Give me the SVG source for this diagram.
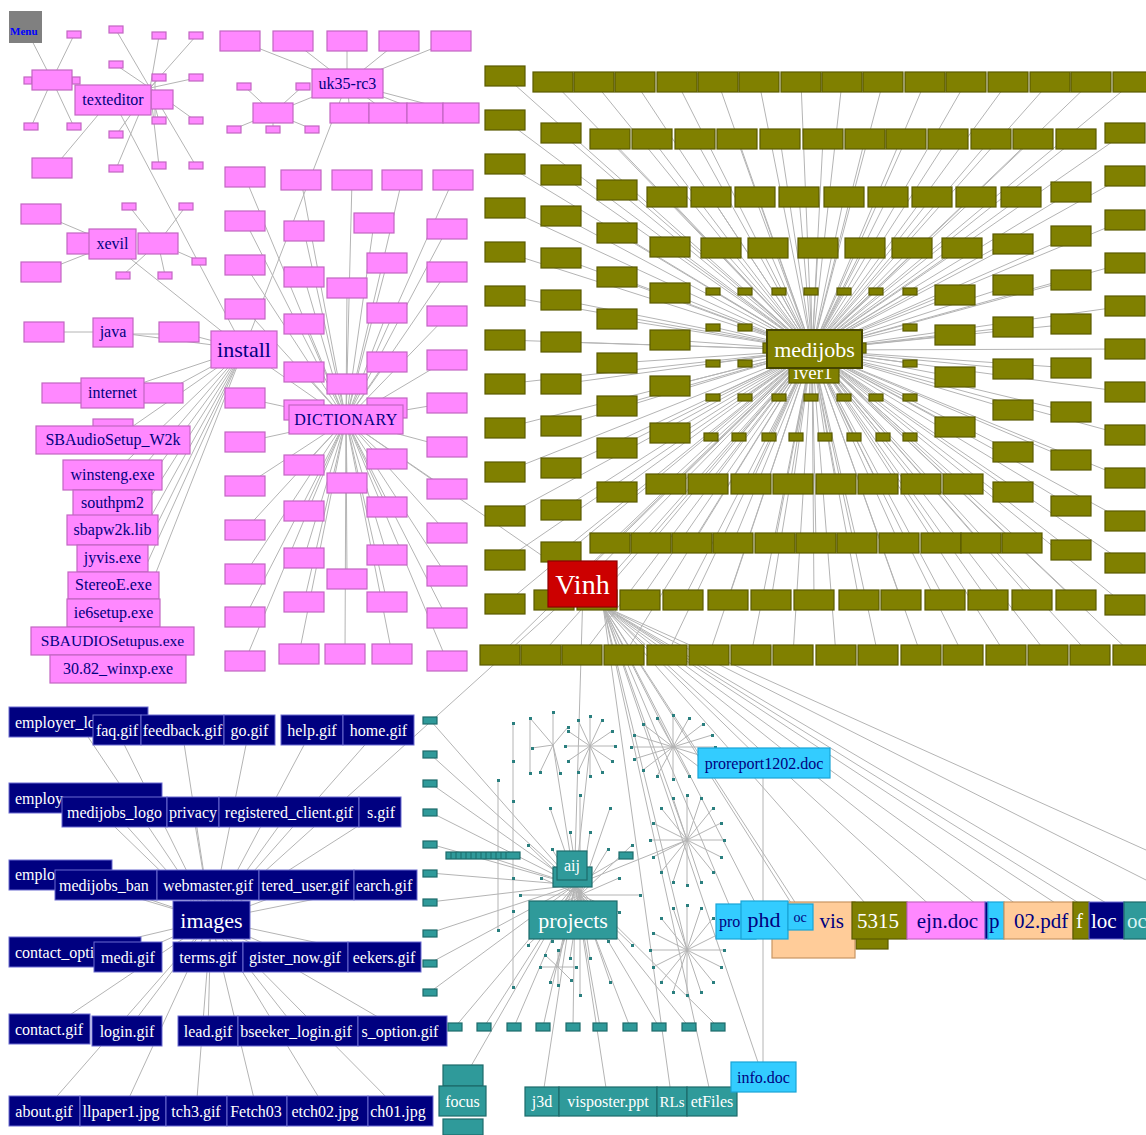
<svg xmlns="http://www.w3.org/2000/svg" width="1146" height="1135" viewBox="0 0 1146 1135">
<style>
.c{fill:none;stroke:#b4b4b4;stroke-width:1}
.p{fill:#ff88ff;stroke:#c266c2;stroke-width:1.2}
.o{fill:#808000;stroke:#5a5a00;stroke-width:1.2}
.n{fill:#000080;stroke:#6a6ad0;stroke-width:1}
.t{fill:#2f9a9a;stroke:#1d6b6b;stroke-width:1.2}
.b{fill:#33ccff;stroke:#1aa3d6;stroke-width:1.2}
.h{fill:#ffcc99;stroke:#c89563;stroke-width:1.2}
.r{fill:#cc0000;stroke:#8a0000;stroke-width:1.2}
.dots{fill:#2a7f7f}
text{font-family:"Liberation Serif","Times New Roman",serif;font-size:16px}
.tp{fill:#000080}
.tw{fill:#ffffff}
.m{text-anchor:middle}
.e{text-anchor:end}
.big{font-size:22px}
.rw{font-size:21px}
.huge{font-size:28px}
.sm{font-size:14px}
.mn{font-size:11px;font-weight:bold;fill:#0000ff}
</style>
<defs>
<rect id="pb" class="p" width="40" height="20"/>
<rect id="ps" class="p" width="14" height="7"/>
<rect id="ob" class="o" width="40" height="20"/>
<rect id="od" class="o" width="14" height="7"/>
<rect id="td" class="t" width="14" height="7"/>
</defs>
<rect width="1146" height="1135" fill="#ffffff"/>

<g id="connectors" class="c">
<!-- pink clusters -->
<path d="M52 80L25 27M52 80L74 35M52 80L31 127M52 80L74 127M150 88L116 30M150 88L159 36M150 88L196 36M150 88L116 65M150 88L159 78M150 88L196 78M150 88L159 121M150 88L196 121M150 88L116 135M150 88L116 169M150 88L159 166M150 88L196 166M98 115L56 165M155 78V120M112 244L41 214M112 244L41 272M158 243L129 206M158 243L186 206M158 243L199 261M158 243L123 275M158 243L165 275M347 83L240 41M347 83L293 41M347 83L347 41M347 83L399 41M347 83L451 41M347 83L350 113M347 83L388 113M347 83L425 113M347 83L461 113M347 83L273 113M273 113L244 86M273 113L303 86M273 113L234 129M273 113L273 129M273 113L312 129"/>
<path d="M244 349L113 100M244 349L112 244M244 349L113 332M244 349L179 332M113 332L44 332M113 334L179 334M244 349L112 393M244 349L163 393M112 393L62 393M244 349L113 440M244 349L112 475M244 349L112 503M244 349L112 530M244 349L112 558M244 349L113 585M244 349L113 613M244 349L112 641M244 349L118 669M244 349L347 83M244 349L346 420"/>
<path d="M346 420L245 177M346 420L301 180M346 420L352 180M346 420L402 180M346 420L453 180M346 420L245 221M346 420L304 231M346 420L374 223M346 420L447 229M346 420L245 265M346 420L304 277M346 420L387 263M346 420L447 272M346 420L347 288M346 420L245 309M346 420L304 324M346 420L387 313M346 420L447 316M346 420L304 372M346 420L347 384M346 420L387 362M346 420L447 360M346 420L245 398M346 420L447 403M346 420L245 442M346 420L447 447M346 420L304 465M346 420L387 459M346 420L347 483M346 420L245 486M346 420L447 489M346 420L304 511M346 420L387 507M346 420L245 530M346 420L447 533M346 420L304 558M346 420L387 555M346 420L347 579M346 420L245 574M346 420L447 576M346 420L304 602M346 420L387 602M346 420L245 617M346 420L447 618M346 420L245 661M346 420L299 654M346 420L345 654M346 420L392 654M346 420L447 661"/>
<!-- medijobs fan -->
<path d="M812 350L505 76M812 350L505 120M812 350L505 164M812 350L505 208M812 350L505 252M812 350L505 296M812 350L505 340M812 350L505 384M812 350L505 428M812 350L505 472M812 350L505 516M812 350L505 560M812 350L505 604M812 350L553 82M812 350L594 82M812 350L635 82M812 350L677 82M812 350L718 82M812 350L759 82M812 350L801 82M812 350L842 82M812 350L883 82M812 350L925 82M812 350L966 82M812 350L1008 82M812 350L1050 82M812 350L1091 82M812 350L1133 82M812 350L1125 133M812 350L1125 176M812 350L1125 220M812 350L1125 263M812 350L1125 306M812 350L1125 349M812 350L1125 392M812 350L1125 435M812 350L1125 478M812 350L1125 521M812 350L1125 563M812 350L1125 605M812 350L500 655M812 350L541 655M812 350L582 655M812 350L624 655M812 350L667 655M812 350L709 655M812 350L751 655M812 350L793 655M812 350L836 655M812 350L878 655M812 350L921 655M812 350L963 655M812 350L1006 655M812 350L1048 655M812 350L1090 655M812 350L1133 655"/>
<path d="M812 350L561 133M812 350L561 175M812 350L561 216M812 350L561 258M812 350L561 300M812 350L561 342M812 350L561 384M812 350L561 426M812 350L561 468M812 350L561 510M812 350L561 552M812 350L610 139M812 350L652 139M812 350L695 139M812 350L737 139M812 350L780 139M812 350L823 139M812 350L865 139M812 350L906 139M812 350L948 139M812 350L991 139M812 350L1033 139M812 350L1076 139M812 350L1071 192M812 350L1071 236M812 350L1071 280M812 350L1071 324M812 350L1071 368M812 350L1071 412M812 350L1071 460M812 350L1071 506M812 350L1071 550M812 350L554 600M812 350L597 600M812 350L640 600M812 350L683 600M812 350L728 600M812 350L771 600M812 350L814 600M812 350L859 600M812 350L901 600M812 350L945 600M812 350L988 600M812 350L1032 600M812 350L1076 600"/>
<path d="M812 350L617 190M812 350L617 233M812 350L617 277M812 350L617 319M812 350L617 363M812 350L617 406M812 350L617 448M812 350L617 492M812 350L667 197M812 350L711 197M812 350L755 197M812 350L799 197M812 350L844 197M812 350L888 197M812 350L932 197M812 350L976 197M812 350L1021 197M812 350L1013 244M812 350L1013 285M812 350L1013 327M812 350L1013 369M812 350L1013 410M812 350L1013 452M812 350L1013 492M812 350L610 543M812 350L651 543M812 350L692 543M812 350L733 543M812 350L775 543M812 350L816 543M812 350L857 543M812 350L899 543M812 350L941 543M812 350L981 543M812 350L1022 543M812 350L670 247M812 350L670 293M812 350L670 340M812 350L670 386M812 350L670 433M812 350L721 248M812 350L768 248M812 350L818 248M812 350L865 248M812 350L912 248M812 350L962 248M812 350L955 295M812 350L955 335M812 350L955 377M812 350L955 427M812 350L666 484M812 350L708 484M812 350L751 484M812 350L793 484M812 350L836 484M812 350L878 484M812 350L921 484M812 350L963 484"/>
<path d="M812 350L713 291M812 350L745 291M812 350L779 291M812 350L811 291M812 350L844 291M812 350L876 291M812 350L910 291M812 350L713 327M812 350L745 327M812 350L910 327M812 350L713 363M812 350L745 363M812 350L910 363M812 350L713 397M812 350L745 397M812 350L779 397M812 350L811 397M812 350L844 397M812 350L876 397M812 350L910 397M812 350L711 437M812 350L739 437M812 350L769 437M812 350L796 437M812 350L825 437M812 350L854 437M812 350L883 437M812 350L910 437"/>
<!-- Vinh -->
<path d="M583 584L812 350M583 584L346 420M583 584L211 920M583 590L575 860M603 606L736 921M603 606L764 920M603 606L800 917M603 606L813 930M603 606L880 920M603 606L946 920M603 606L996 920M603 606L1038 920M603 606L1081 920M603 606L1106 920M603 606L1135 920M603 606L1146 880M603 606L1146 850M603 606L763 1077M603 606L764 763M603 606L673 747M603 606L687 840M603 606L687 950M603 606L712 1101M603 606L672 1101M763 778V1062"/>
<!-- images -->
<path d="M211 920L78 722M211 920L117 730M211 920L182 730M211 920L249 730M211 920L312 730M211 920L378 730M211 920L85 798M211 920L114 812M211 920L193 812M211 920L289 812M211 920L380 812M211 920L60 875M211 920L106 885M211 920L208 885M211 920L306 885M211 920L385 885M211 920L75 952M211 920L128 957M211 920L208 957M211 920L295 957M211 920L384 957M211 920L49 1029M211 920L127 1031M211 920L208 1031M211 920L298 1031M211 920L402 1031M211 920L44 1111M211 920L123 1111M211 920L196 1111M211 920L257 1111M211 920L327 1111M211 920L400 1111"/>
<!-- projects -->
<path d="M575 885L430 720M575 885L430 754M575 885L430 783M575 885L430 812M575 885L430 844M575 885L430 873M575 885L430 902M575 885L430 933M575 885L430 963M575 885L430 992M575 885L455 1027M575 885L484 1027M575 885L514 1027M575 885L543 1027M575 885L573 1027M575 885L600 1027M575 885L630 1027M575 885L659 1027M575 885L689 1027M575 885L718 1027M575 885L463 1080M575 885L542 1101M575 885L608 1101M575 885L483 855M575 885L626 855M575 885L590 746M575 885L553 745M575 885L558 967M575 885L687 840"/>
<path d="M590 746L615 746M590 746L612 761M590 746L602 772M590 746L590 776M590 746L578 772M590 746L568 761M590 746L565 746M590 746L568 731M590 746L578 720M590 746L590 716M590 746L602 720M590 746L612 731M673 747L715 747M673 747L712 759M673 747L703 770M673 747L689 776M673 747L673 779M673 747L657 776M673 747L643 770M673 747L634 759M673 747L631 747M673 747L634 735M673 747L643 724M673 747L657 718M673 747L673 715M673 747L689 718M673 747L703 724M673 747L712 735"/>
<path d="M687 840L724 840M687 840L721 857M687 840L713 872M687 840L701 882M687 840L687 885M687 840L673 882M687 840L661 872M687 840L653 857M687 840L650 840M687 840L653 823M687 840L661 808M687 840L673 798M687 840L687 795M687 840L701 798M687 840L713 808M687 840L721 823M687 950L724 950M687 950L721 967M687 950L713 982M687 950L701 992M687 950L687 995M687 950L673 992M687 950L661 982M687 950L653 967M687 950L650 950M687 950L653 933M687 950L661 918M687 950L673 908M687 950L687 905M687 950L701 908M687 950L713 918M687 950L721 933"/>
<path d="M553 745L530 718M553 745L553 712M553 745L568 727M553 745L540 772M553 745L560 773M553 745L532 748M580 895L640 895M580 895L619 912M580 895L632 945M580 895L608 941M580 895L610 982M580 895L590 958M580 895L580 995M580 895L570 958M580 895L550 982M580 895L552 941M580 895L528 945M580 895L541 912M580 895L520 895M580 895L541 878M580 895L528 845M580 895L552 849M580 895L550 808M580 895L570 832M580 895L580 795M580 895L590 832M580 895L610 808M580 895L608 849M580 895L632 845M580 895L619 878M558 967L540 967M558 967L576 967M558 967L558 950M558 967L558 985M558 967L545 955M558 967L571 980M513 723V987M498 780V930M530 718V773"/>
</g>

<g id="menu">
<rect x="9" y="11" width="33" height="32" fill="#808080"/>
<text class="mn" x="10" y="35">Menu</text>
</g>

<g id="cluster-topleft">
<rect class="p" x="24" y="77" width="8" height="7"/><rect class="p" x="72" y="77" width="8" height="7"/>
<use href="#pb" x="32" y="70"/>
<use href="#ps" x="67" y="31"/><use href="#ps" x="24" y="123"/><use href="#ps" x="67" y="123"/>
</g>
<g id="texteditor">
<use href="#ps" x="109" y="26"/><use href="#ps" x="152" y="32"/><use href="#ps" x="189" y="32"/><use href="#ps" x="109" y="61"/><use href="#ps" x="152" y="74"/><use href="#ps" x="189" y="74"/><use href="#ps" x="152" y="117"/><use href="#ps" x="189" y="117"/><use href="#ps" x="109" y="131"/><use href="#ps" x="109" y="165"/><use href="#ps" x="152" y="162"/><use href="#ps" x="189" y="162"/>
<use href="#pb" x="32" y="158"/>
<rect class="p" x="151" y="90" width="22" height="19"/>
<rect class="p" x="75" y="85" width="76" height="30"/>
<text class="tp m" x="113" y="105">texteditor</text>
</g>
<g id="xevil">
<use href="#pb" x="21" y="204"/><use href="#pb" x="21" y="262"/>
<use href="#ps" x="122" y="203"/><use href="#ps" x="179" y="203"/><use href="#ps" x="192" y="258"/><use href="#ps" x="116" y="272"/><use href="#ps" x="158" y="272"/>
<rect class="p" x="67" y="233" width="24" height="21"/>
<rect class="p" x="138" y="233" width="40" height="21"/>
<rect class="p" x="89" y="229" width="47" height="30"/>
<text class="tp m" x="112.5" y="249">xevil</text>
</g>
<g id="uk35-rc3">
<use href="#pb" x="220" y="31"/><use href="#pb" x="273" y="31"/><use href="#pb" x="327" y="31"/><use href="#pb" x="379" y="31"/><use href="#pb" x="431" y="31"/>
<use href="#ps" x="237" y="83"/><use href="#ps" x="296" y="83"/><use href="#ps" x="227" y="126"/><use href="#ps" x="266" y="126"/><use href="#ps" x="305" y="126"/>
<use href="#pb" x="253" y="103"/>
<rect class="p" x="330" y="103" width="39" height="20"/><rect class="p" x="369" y="103" width="38" height="20"/><rect class="p" x="407" y="103" width="36" height="20"/><rect class="p" x="443" y="103" width="36" height="20"/>
<rect class="p" x="312" y="69" width="71" height="29"/>
<text class="tp m" x="347.5" y="89">uk35-rc3</text>
</g>
<g id="java">
<use href="#pb" x="24" y="322"/><use href="#pb" x="159" y="322"/>
<rect class="p" x="93" y="318" width="40" height="29"/>
<text class="tp m" x="113" y="337">java</text>
</g>
<g id="internet">
<rect class="p" x="42" y="383" width="41" height="20"/><rect class="p" x="143" y="383" width="40" height="20"/>
<rect class="p" x="81" y="378" width="63" height="30"/>
<text class="tp m" x="112.5" y="398">internet</text>
</g>
<g id="install-files">
<rect class="p" x="93" y="419" width="40" height="10"/>
<g id="SBAudioSetup_W2k"><rect class="p" x="36" y="426" width="154" height="28"/><text class="tp m" x="113" y="445">SBAudioSetup_W2k</text></g>
<g id="winsteng"><rect class="p" x="63" y="460" width="99" height="30"/><text class="tp m" x="112.5" y="480">winsteng.exe</text></g>
<g id="southpm2"><rect class="p" x="73" y="490" width="79" height="26"/><text class="tp m" x="112.5" y="508">southpm2</text></g>
<g id="sbapw2k"><rect class="p" x="67" y="515" width="91" height="30"/><text class="tp m" x="112.5" y="535">sbapw2k.lib</text></g>
<g id="jyvis"><rect class="p" x="77" y="545" width="71" height="27"/><text class="tp m" x="112.5" y="563">jyvis.exe</text></g>
<g id="StereoE"><rect class="p" x="68" y="572" width="91" height="27"/><text class="tp m" x="113.5" y="590">StereoE.exe</text></g>
<g id="ie6setup"><rect class="p" x="67" y="599" width="93" height="28"/><text class="tp m" x="113.5" y="618">ie6setup.exe</text></g>
<g id="SBAUDIOSetupus"><rect class="p" x="31" y="627" width="163" height="28"/><text class="tp m" x="112.5" y="646" style="font-size:15.5px">SBAUDIOSetupus.exe</text></g>
<g id="winxp"><rect class="p" x="50" y="655" width="136" height="28"/><text class="tp m" x="118" y="674">30.82_winxp.exe</text></g>
</g>
<g id="install">
<rect class="p" x="211" y="331" width="66" height="37"/>
<text class="tp m big" x="244" y="357">install</text>
</g>
<g id="dictionary-files">
<use href="#pb" x="225" y="167"/><use href="#pb" x="281" y="170"/><use href="#pb" x="332" y="170"/><use href="#pb" x="382" y="170"/><use href="#pb" x="433" y="170"/>
<use href="#pb" x="225" y="211"/><use href="#pb" x="284" y="221"/><use href="#pb" x="354" y="213"/><use href="#pb" x="427" y="219"/>
<use href="#pb" x="225" y="255"/><use href="#pb" x="284" y="267"/><use href="#pb" x="367" y="253"/><use href="#pb" x="427" y="262"/>
<use href="#pb" x="327" y="278"/>
<use href="#pb" x="225" y="299"/><use href="#pb" x="284" y="314"/><use href="#pb" x="367" y="303"/><use href="#pb" x="427" y="306"/>
<use href="#pb" x="284" y="362"/><use href="#pb" x="327" y="374"/><use href="#pb" x="367" y="352"/><use href="#pb" x="427" y="350"/>
<use href="#pb" x="225" y="388"/><use href="#pb" x="367" y="398"/><use href="#pb" x="427" y="393"/><use href="#pb" x="284" y="400"/>
<use href="#pb" x="225" y="432"/><use href="#pb" x="427" y="437"/>
<use href="#pb" x="284" y="455"/><use href="#pb" x="367" y="449"/>
<use href="#pb" x="327" y="473"/>
<use href="#pb" x="225" y="476"/><use href="#pb" x="427" y="479"/>
<use href="#pb" x="284" y="501"/><use href="#pb" x="367" y="497"/>
<use href="#pb" x="225" y="520"/><use href="#pb" x="427" y="523"/>
<use href="#pb" x="284" y="548"/><use href="#pb" x="367" y="545"/>
<use href="#pb" x="327" y="569"/>
<use href="#pb" x="225" y="564"/><use href="#pb" x="427" y="566"/>
<use href="#pb" x="284" y="592"/><use href="#pb" x="367" y="592"/>
<use href="#pb" x="225" y="607"/><use href="#pb" x="427" y="608"/>
<use href="#pb" x="225" y="651"/><use href="#pb" x="279" y="644"/><use href="#pb" x="325" y="644"/><use href="#pb" x="372" y="644"/><use href="#pb" x="427" y="651"/>
</g>
<g id="DICTIONARY">
<rect class="p" x="289" y="405" width="114" height="29"/>
<text class="tp m" x="346" y="425" letter-spacing="0.5">DICTIONARY</text>
</g>

<g id="medijobs-files">
<g id="ringA">
<use href="#ob" x="485" y="66"/><use href="#ob" x="485" y="110"/><use href="#ob" x="485" y="154"/><use href="#ob" x="485" y="198"/><use href="#ob" x="485" y="242"/><use href="#ob" x="485" y="286"/><use href="#ob" x="485" y="330"/><use href="#ob" x="485" y="374"/><use href="#ob" x="485" y="418"/><use href="#ob" x="485" y="462"/><use href="#ob" x="485" y="506"/><use href="#ob" x="485" y="550"/><use href="#ob" x="485" y="594"/>
<use href="#ob" x="533" y="72"/><use href="#ob" x="574" y="72"/><use href="#ob" x="615" y="72"/><use href="#ob" x="657" y="72"/><use href="#ob" x="698" y="72"/><use href="#ob" x="739" y="72"/><use href="#ob" x="781" y="72"/><use href="#ob" x="822" y="72"/><use href="#ob" x="863" y="72"/><use href="#ob" x="905" y="72"/><use href="#ob" x="946" y="72"/><use href="#ob" x="988" y="72"/><use href="#ob" x="1030" y="72"/><use href="#ob" x="1071" y="72"/><use href="#ob" x="1113" y="72"/>
<use href="#ob" x="1105" y="123"/><use href="#ob" x="1105" y="166"/><use href="#ob" x="1105" y="210"/><use href="#ob" x="1105" y="253"/><use href="#ob" x="1105" y="296"/><use href="#ob" x="1105" y="339"/><use href="#ob" x="1105" y="382"/><use href="#ob" x="1105" y="425"/><use href="#ob" x="1105" y="468"/><use href="#ob" x="1105" y="511"/><use href="#ob" x="1105" y="553"/><use href="#ob" x="1105" y="595"/>
<use href="#ob" x="480" y="645"/><use href="#ob" x="521" y="645"/><use href="#ob" x="562" y="645"/><use href="#ob" x="604" y="645"/><use href="#ob" x="647" y="645"/><use href="#ob" x="689" y="645"/><use href="#ob" x="731" y="645"/><use href="#ob" x="773" y="645"/><use href="#ob" x="816" y="645"/><use href="#ob" x="858" y="645"/><use href="#ob" x="901" y="645"/><use href="#ob" x="943" y="645"/><use href="#ob" x="986" y="645"/><use href="#ob" x="1028" y="645"/><use href="#ob" x="1070" y="645"/><use href="#ob" x="1113" y="645"/>
</g>
<g id="ringB">
<use href="#ob" x="541" y="123"/><use href="#ob" x="541" y="165"/><use href="#ob" x="541" y="206"/><use href="#ob" x="541" y="248"/><use href="#ob" x="541" y="290"/><use href="#ob" x="541" y="332"/><use href="#ob" x="541" y="374"/><use href="#ob" x="541" y="416"/><use href="#ob" x="541" y="458"/><use href="#ob" x="541" y="500"/><use href="#ob" x="541" y="542"/>
<use href="#ob" x="590" y="129"/><use href="#ob" x="632" y="129"/><use href="#ob" x="675" y="129"/><use href="#ob" x="717" y="129"/><use href="#ob" x="760" y="129"/><use href="#ob" x="803" y="129"/><use href="#ob" x="845" y="129"/><use href="#ob" x="886" y="129"/><use href="#ob" x="928" y="129"/><use href="#ob" x="971" y="129"/><use href="#ob" x="1013" y="129"/><use href="#ob" x="1056" y="129"/>
<use href="#ob" x="1051" y="182"/><use href="#ob" x="1051" y="226"/><use href="#ob" x="1051" y="270"/><use href="#ob" x="1051" y="314"/><use href="#ob" x="1051" y="358"/><use href="#ob" x="1051" y="402"/><use href="#ob" x="1051" y="450"/><use href="#ob" x="1051" y="496"/><use href="#ob" x="1051" y="540"/>
<use href="#ob" x="534" y="590"/><use href="#ob" x="577" y="590"/><use href="#ob" x="620" y="590"/><use href="#ob" x="663" y="590"/><use href="#ob" x="708" y="590"/><use href="#ob" x="751" y="590"/><use href="#ob" x="794" y="590"/><use href="#ob" x="839" y="590"/><use href="#ob" x="881" y="590"/><use href="#ob" x="925" y="590"/><use href="#ob" x="968" y="590"/><use href="#ob" x="1012" y="590"/><use href="#ob" x="1056" y="590"/>
</g>
<g id="ringC">
<use href="#ob" x="597" y="180"/><use href="#ob" x="597" y="223"/><use href="#ob" x="597" y="267"/><use href="#ob" x="597" y="309"/><use href="#ob" x="597" y="353"/><use href="#ob" x="597" y="396"/><use href="#ob" x="597" y="438"/><use href="#ob" x="597" y="482"/>
<use href="#ob" x="647" y="187"/><use href="#ob" x="691" y="187"/><use href="#ob" x="735" y="187"/><use href="#ob" x="779" y="187"/><use href="#ob" x="824" y="187"/><use href="#ob" x="868" y="187"/><use href="#ob" x="912" y="187"/><use href="#ob" x="956" y="187"/><use href="#ob" x="1001" y="187"/>
<use href="#ob" x="993" y="234"/><use href="#ob" x="993" y="275"/><use href="#ob" x="993" y="317"/><use href="#ob" x="993" y="359"/><use href="#ob" x="993" y="400"/><use href="#ob" x="993" y="442"/><use href="#ob" x="993" y="482"/>
<use href="#ob" x="590" y="533"/><use href="#ob" x="631" y="533"/><use href="#ob" x="672" y="533"/><use href="#ob" x="713" y="533"/><use href="#ob" x="755" y="533"/><use href="#ob" x="796" y="533"/><use href="#ob" x="837" y="533"/><use href="#ob" x="879" y="533"/><use href="#ob" x="921" y="533"/><use href="#ob" x="961" y="533"/><use href="#ob" x="1002" y="533"/>
</g>
<g id="ringD">
<use href="#ob" x="650" y="237"/><use href="#ob" x="650" y="283"/><use href="#ob" x="650" y="330"/><use href="#ob" x="650" y="376"/><use href="#ob" x="650" y="423"/>
<use href="#ob" x="701" y="238"/><use href="#ob" x="748" y="238"/><use href="#ob" x="798" y="238"/><use href="#ob" x="845" y="238"/><use href="#ob" x="892" y="238"/><use href="#ob" x="942" y="238"/>
<use href="#ob" x="935" y="285"/><use href="#ob" x="935" y="325"/><use href="#ob" x="935" y="367"/><use href="#ob" x="935" y="417"/>
<use href="#ob" x="646" y="474"/><use href="#ob" x="688" y="474"/><use href="#ob" x="731" y="474"/><use href="#ob" x="773" y="474"/><use href="#ob" x="816" y="474"/><use href="#ob" x="858" y="474"/><use href="#ob" x="901" y="474"/><use href="#ob" x="943" y="474"/>
</g>
<g id="ringE">
<use href="#od" x="706" y="288"/><use href="#od" x="738" y="288"/><use href="#od" x="772" y="288"/><use href="#od" x="804" y="288"/><use href="#od" x="837" y="288"/><use href="#od" x="869" y="288"/><use href="#od" x="903" y="288"/>
<use href="#od" x="706" y="324"/><use href="#od" x="738" y="324"/><use href="#od" x="903" y="324"/>
<use href="#od" x="706" y="360"/><use href="#od" x="738" y="360"/><use href="#od" x="903" y="360"/>
<use href="#od" x="706" y="394"/><use href="#od" x="738" y="394"/><use href="#od" x="772" y="394"/><use href="#od" x="804" y="394"/><use href="#od" x="837" y="394"/><use href="#od" x="869" y="394"/><use href="#od" x="903" y="394"/>
<rect class="o" x="704" y="433" width="14" height="8"/><rect class="o" x="732" y="433" width="14" height="8"/><rect class="o" x="762" y="433" width="14" height="8"/><rect class="o" x="789" y="433" width="14" height="8"/><rect class="o" x="818" y="433" width="14" height="8"/><rect class="o" x="847" y="433" width="14" height="8"/><rect class="o" x="876" y="433" width="14" height="8"/><rect class="o" x="903" y="433" width="14" height="8"/>
</g>
</g>
<g id="fiver1">
<rect class="o" x="789" y="355" width="50" height="28"/>
<text class="tw m" x="813" y="379" style="font-size:19px">iver1</text>
</g>
<g id="medijobs">
<rect class="o" x="763" y="343" width="6" height="10"/><rect class="o" x="860" y="343" width="6" height="10"/>
<rect x="767" y="330" width="95" height="38" fill="#808000" stroke="#454500" stroke-width="2"/>
<text class="tw m big" x="814.5" y="357">medijobs</text>
</g>
<g id="Vinh">
<rect class="r" x="548" y="561" width="69" height="46"/>
<text class="tw m huge" x="582.5" y="594">Vinh</text>
</g>

<g id="images-files">
<g id="employer_login"><rect class="n" x="9" y="707" width="139" height="30"/><text class="tw" x="15" y="728">employer_lo</text></g>
<g id="faq"><rect class="n" x="93" y="715" width="48" height="30"/><text class="tw m" x="117" y="736">faq.gif</text></g>
<g id="feedback"><rect class="n" x="141" y="715" width="83" height="30"/><text class="tw m" x="182.5" y="736">feedback.gif</text></g>
<g id="go"><rect class="n" x="224" y="715" width="51" height="30"/><text class="tw m" x="249.5" y="736">go.gif</text></g>
<g id="help"><rect class="n" x="281" y="715" width="62" height="30"/><text class="tw m" x="312" y="736">help.gif</text></g>
<g id="home"><rect class="n" x="343" y="715" width="71" height="30"/><text class="tw m" x="378.5" y="736">home.gif</text></g>
<g id="employer_options"><rect class="n" x="9" y="783" width="153" height="30"/><text class="tw" x="15" y="804">employ</text></g>
<g id="medijobs_logo"><rect class="n" x="62" y="797" width="105" height="30"/><text class="tw m" x="114.5" y="818">medijobs_logo</text></g>
<g id="privacy"><rect class="n" x="167" y="797" width="52" height="30"/><text class="tw m" x="193" y="818">privacy</text></g>
<g id="registered_client"><rect class="n" x="219" y="797" width="140" height="30"/><text class="tw m" x="289" y="818">registered_client.gif</text></g>
<g id="jobs"><rect class="n" x="359" y="797" width="42" height="30"/><text class="tw e" x="395" y="818">s.gif</text></g>
<g id="employer_x"><rect class="n" x="9" y="860" width="103" height="30"/><text class="tw" x="15" y="880">emplo</text></g>
<g id="medijobs_banner"><rect class="n" x="55" y="870" width="102" height="30"/><text class="tw" x="59" y="891">medijobs_ban</text></g>
<g id="webmaster"><rect class="n" x="157" y="870" width="102" height="30"/><text class="tw m" x="208" y="891">webmaster.gif</text></g>
<g id="registered_user"><rect class="n" x="259" y="870" width="95" height="30"/><text class="tw m" x="305" y="891">tered_user.gif</text></g>
<g id="search"><rect class="n" x="354" y="870" width="63" height="30"/><text class="tw m" x="384" y="891">earch.gif</text></g>
<g id="contact_options"><rect class="n" x="9" y="937" width="132" height="30"/><text class="tw" x="15" y="958">contact_opti</text></g>
<g id="medi"><rect class="n" x="94" y="942" width="68" height="30"/><text class="tw m" x="128" y="963">medi.gif</text></g>
<g id="terms"><rect class="n" x="173" y="942" width="70" height="30"/><text class="tw m" x="208" y="963">terms.gif</text></g>
<g id="register_now"><rect class="n" x="243" y="942" width="105" height="30"/><text class="tw m" x="295" y="963">gister_now.gif</text></g>
<g id="jobseekers"><rect class="n" x="348" y="942" width="73" height="30"/><text class="tw m" x="384" y="963">eekers.gif</text></g>
<g id="contact"><rect class="n" x="9" y="1014" width="81" height="30"/><text class="tw m" x="49" y="1035">contact.gif</text></g>
<g id="login"><rect class="n" x="92" y="1016" width="70" height="30"/><text class="tw m" x="127" y="1037">login.gif</text></g>
<g id="lead"><rect class="n" x="178" y="1016" width="60" height="30"/><text class="tw m" x="208" y="1037">lead.gif</text></g>
<g id="jobseeker_login"><rect class="n" x="238" y="1016" width="120" height="30"/><text class="tw m" x="296" y="1037">bseeker_login.gif</text></g>
<g id="jobs_option"><rect class="n" x="358" y="1016" width="89" height="30"/><text class="tw m" x="400" y="1037">s_option.gif</text></g>
<g id="about"><rect class="n" x="9" y="1096" width="71" height="30"/><text class="tw m" x="44" y="1117">about.gif</text></g>
<g id="wallpaper1"><rect class="n" x="80" y="1096" width="86" height="30"/><text class="tw m" x="121" y="1117">llpaper1.jpg</text></g>
<g id="fetch3"><rect class="n" x="166" y="1096" width="61" height="30"/><text class="tw m" x="196" y="1117">tch3.gif</text></g>
<g id="Fetch03"><rect class="n" x="227" y="1096" width="60" height="30"/><text class="tw m" x="256" y="1117">Fetch03</text></g>
<g id="fetch02"><rect class="n" x="287" y="1096" width="81" height="30"/><text class="tw m" x="325" y="1117">etch02.jpg</text></g>
<g id="ch01"><rect class="n" x="368" y="1096" width="65" height="30"/><text class="tw m" x="398" y="1117">ch01.jpg</text></g>
</g>
<g id="images">
<rect class="n" x="173" y="901" width="77" height="38"/>
<text class="tw m big" x="211.5" y="928">images</text>
</g>

<g id="projects-files">
<use href="#td" x="423" y="717"/><use href="#td" x="423" y="751"/><use href="#td" x="423" y="780"/><use href="#td" x="423" y="809"/><use href="#td" x="423" y="841"/><use href="#td" x="423" y="870"/><use href="#td" x="423" y="899"/><use href="#td" x="423" y="930"/><use href="#td" x="423" y="960"/><use href="#td" x="423" y="989"/>
<rect class="t" x="448" y="1023" width="14" height="8"/><rect class="t" x="477" y="1023" width="14" height="8"/><rect class="t" x="507" y="1023" width="14" height="8"/><rect class="t" x="536" y="1023" width="14" height="8"/><rect class="t" x="566" y="1023" width="14" height="8"/><rect class="t" x="593" y="1023" width="14" height="8"/><rect class="t" x="623" y="1023" width="14" height="8"/><rect class="t" x="652" y="1023" width="14" height="8"/><rect class="t" x="682" y="1023" width="14" height="8"/><rect class="t" x="711" y="1023" width="14" height="8"/>
<rect class="t" x="446" y="852" width="74" height="7"/>
<path d="M451 852v7M456 852v7M461 852v7M466 852v7M471 852v7M476 852v7M481 852v7M486 852v7M491 852v7M496 852v7M501 852v7M506 852v7" stroke="#1d6b6b" stroke-width="1"/>
<use href="#td" x="619" y="852"/>
<path class="dots" d="M614 745h3v3h-3zM611 760h3v3h-3zM601 771h3v3h-3zM589 775h3v3h-3zM577 771h3v3h-3zM567 760h3v3h-3zM564 745h3v3h-3zM567 730h3v3h-3zM577 719h3v3h-3zM589 715h3v3h-3zM601 719h3v3h-3zM611 730h3v3h-3zM714 746h3v3h-3zM711 758h3v3h-3zM702 769h3v3h-3zM688 775h3v3h-3zM672 778h3v3h-3zM656 775h3v3h-3zM642 769h3v3h-3zM633 758h3v3h-3zM630 746h3v3h-3zM633 734h3v3h-3zM642 723h3v3h-3zM656 717h3v3h-3zM672 714h3v3h-3zM688 717h3v3h-3zM702 723h3v3h-3zM711 734h3v3h-3zM723 839h3v3h-3zM720 856h3v3h-3zM712 871h3v3h-3zM700 881h3v3h-3zM686 884h3v3h-3zM672 881h3v3h-3zM660 871h3v3h-3zM652 856h3v3h-3zM649 839h3v3h-3zM652 822h3v3h-3zM660 807h3v3h-3zM672 797h3v3h-3zM686 794h3v3h-3zM700 797h3v3h-3zM712 807h3v3h-3zM720 822h3v3h-3zM723 949h3v3h-3zM720 966h3v3h-3zM712 981h3v3h-3zM700 991h3v3h-3zM686 994h3v3h-3zM672 991h3v3h-3zM660 981h3v3h-3zM652 966h3v3h-3zM649 949h3v3h-3zM652 932h3v3h-3zM660 917h3v3h-3zM672 907h3v3h-3zM686 904h3v3h-3zM700 907h3v3h-3zM712 917h3v3h-3zM720 932h3v3h-3zM529 717h3v3h-3zM552 711h3v3h-3zM567 726h3v3h-3zM539 771h3v3h-3zM559 772h3v3h-3zM531 747h3v3h-3zM639 894h3v3h-3zM618 911h3v3h-3zM631 944h3v3h-3zM607 940h3v3h-3zM609 981h3v3h-3zM589 957h3v3h-3zM579 994h3v3h-3zM569 957h3v3h-3zM549 981h3v3h-3zM551 940h3v3h-3zM527 944h3v3h-3zM540 911h3v3h-3zM519 894h3v3h-3zM540 877h3v3h-3zM527 844h3v3h-3zM551 848h3v3h-3zM549 807h3v3h-3zM569 831h3v3h-3zM579 794h3v3h-3zM589 831h3v3h-3zM609 807h3v3h-3zM607 848h3v3h-3zM631 844h3v3h-3zM618 877h3v3h-3zM539 966h3v3h-3zM575 966h3v3h-3zM557 949h3v3h-3zM557 984h3v3h-3zM544 954h3v3h-3zM570 979h3v3h-3zM512 722h3v3h-3zM512 986h3v3h-3zM497 779h3v3h-3zM497 929h3v3h-3zM529 772h3v3h-3zM512 760h3v3h-3zM512 800h3v3h-3zM512 877h3v3h-3zM512 910h3v3h-3z"/>
<g id="focus">
<rect class="t" x="443" y="1065" width="40" height="21"/>
<rect class="t" x="443" y="1119" width="40" height="16"/>
<rect class="t" x="439" y="1086" width="47" height="30"/>
<text class="tw m" x="462.5" y="1107">focus</text>
</g>
<g id="j3d"><rect class="t" x="525" y="1087" width="34" height="29"/><text class="tw m" x="542" y="1107">j3d</text></g>
<g id="visposter"><rect class="t" x="559" y="1087" width="98" height="29"/><text class="tw m" x="608" y="1107">visposter.ppt</text></g>
<g id="URLs"><rect class="t" x="657" y="1087" width="30" height="29"/><text class="tw m" x="672" y="1107" style="font-size:15px">RLs</text></g>
<g id="etFiles"><rect class="t" x="687" y="1087" width="50" height="29"/><text class="tw m" x="712" y="1107">etFiles</text></g>
</g>
<g id="aij">
<rect class="t" x="553" y="867" width="39" height="20"/>
<rect class="t" x="557" y="851" width="30" height="29"/>
<text class="tw m" x="572" y="871">aij</text>
</g>
<g id="projects">
<rect class="t" x="529" y="901" width="88" height="38"/>
<text class="tw m big" x="573" y="928">projects</text>
</g>

<g id="proreport1202">
<rect class="b" x="698" y="748" width="132" height="30"/>
<text class="tp m" x="764" y="769">proreport1202.doc</text>
</g>
<g id="info">
<rect class="b" x="731" y="1062" width="65" height="30"/>
<text class="tp m" x="763.5" y="1083">info.doc</text>
</g>
<g id="vinh-docs">
<rect class="o" x="856" y="935" width="32" height="14"/>
<g id="pro"><rect class="b" x="716" y="904" width="40" height="35"/><text class="tp" x="719" y="927">pro</text></g>
<g id="vis"><rect class="h" x="772" y="902" width="83" height="56"/><text class="tp e rw" x="844" y="928">vis</text></g>
<g id="phd"><rect class="b" x="741" y="901" width="47" height="38"/><text class="tp m big" x="764" y="927">phd</text></g>
<g id="oc1"><rect class="b" x="788" y="904" width="25" height="26"/><text class="tp m sm" x="800" y="922">oc</text></g>
<g id="n5315"><rect class="o" x="852" y="902" width="55" height="37"/><text class="tw m rw" x="878" y="928">5315</text></g>
<g id="ejn"><rect class="p" x="907" y="902" width="78" height="37"/><text class="tp e rw" x="978" y="928">ejn.doc</text></g>
<rect class="n" x="985" y="902" width="3" height="37"/>
<g id="p"><rect class="b" x="988" y="902" width="16" height="37"/><text class="tp rw" x="989" y="928">p</text></g>
<g id="pdf02"><rect class="h" x="1004" y="902" width="69" height="37"/><text class="tp m rw" x="1041" y="928">02.pdf</text></g>
<g id="f"><rect class="o" x="1073" y="902" width="16" height="37"/><text class="tw rw" x="1076" y="928">f</text></g>
<g id="loc"><rect class="n" x="1089" y="902" width="35" height="37"/><text class="tw rw" x="1091" y="928">loc</text></g>
<g id="oc2"><rect class="t" x="1124" y="902" width="30" height="37"/><text class="rw" x="1127" y="928" fill="#d8f4f4">oc</text></g>
</g>
</svg>
